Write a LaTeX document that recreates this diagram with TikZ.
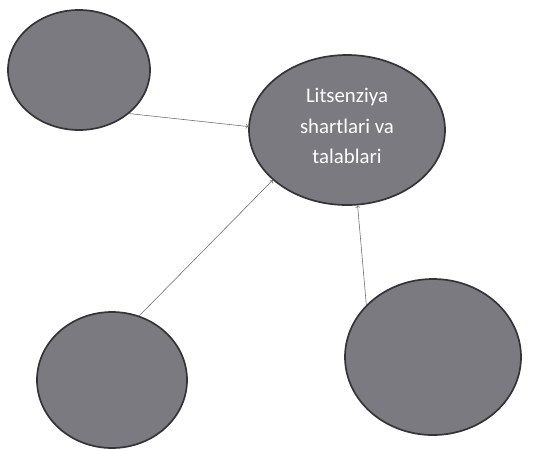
\documentclass[tikz,border=0pt]{standalone}
\usepackage{fontspec}
\setmainfont{Carlito}
\usepackage{tikz}
\usetikzlibrary{shapes.geometric}
\definecolor{ballgray}{HTML}{7B7A80}
\definecolor{rimgray}{HTML}{333338}
\definecolor{linegray}{HTML}{6A6A6A}

\begin{document}
\begin{tikzpicture}[x=0.025cm,y=-0.025cm]
  \useasboundingbox (0,0) rectangle (544,449);
  \tikzset{ball/.style={ellipse,draw=rimgray,line width=1.2pt,fill=ballgray,inner sep=0pt}}
  \node[ball,minimum width=142*0.025cm,minimum height=120*0.025cm] (topleft) at (79,70) {};
  \node[ball,minimum width=196*0.025cm,minimum height=150*0.025cm] (licence) at (347,130) {};
  \node[align=center,text=white,font=\fontsize{14.8}{21.5}\selectfont] (licencetext) at (347,126)
    {Litsenziya\\shartlari va\\talablari};
  \node[ball,minimum width=150*0.025cm,minimum height=136*0.025cm] (botleft) at (112,380) {};
  \node[ball,minimum width=176*0.025cm,minimum height=156*0.025cm] (botright) at (433,357) {};
  \draw[->,linegray,thin] (topleft.-41) -- (licence.178);
  \draw[->,linegray,thin] (botleft.67) -- (licence.214);
  \draw[->,linegray,thin] (botright.142) -- (licence.-82);
\end{tikzpicture}
\end{document}
